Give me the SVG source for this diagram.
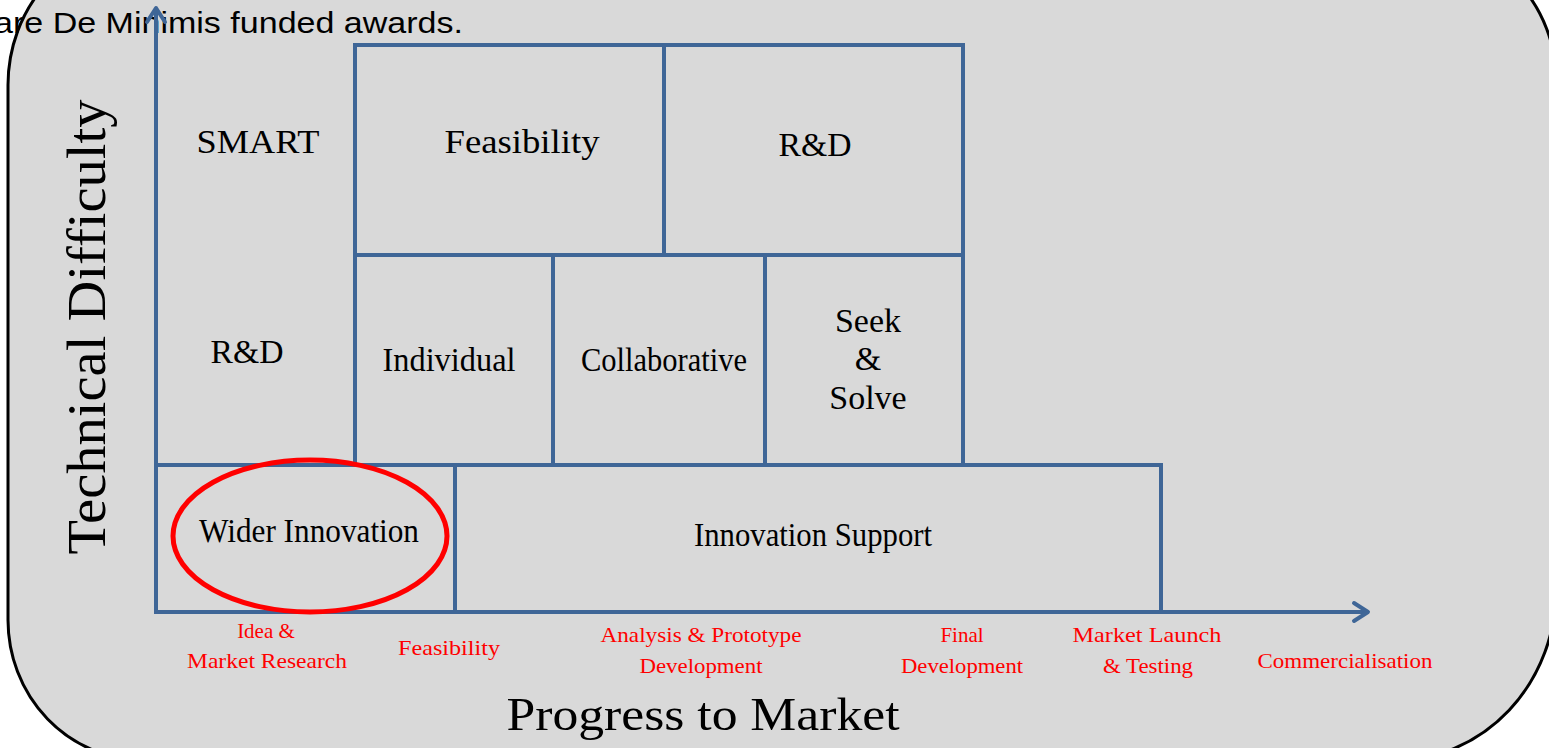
<svg xmlns="http://www.w3.org/2000/svg" width="1549" height="748" viewBox="0 0 1549 748">
<style>
.bg{fill:#d9d9d9;stroke:#000;stroke-width:3}
.box{fill:none;stroke:#3f6697;stroke-width:4}
.axis{fill:none;stroke:#3f6697;stroke-width:4}
.lbl{font-family:"Liberation Serif","DejaVu Serif",serif;font-size:34px;fill:#000;text-anchor:middle}
.red{font-family:"Liberation Serif","DejaVu Serif",serif;font-size:21px;fill:#ff0000;text-anchor:middle}
.title{font-family:"Liberation Serif","DejaVu Serif",serif;fill:#000;text-anchor:middle}
.top{font-family:"Liberation Sans","Open Sans",sans-serif;font-size:29px;fill:#000}
</style>
<defs>
<marker id="arr" markerUnits="userSpaceOnUse" markerWidth="24" markerHeight="24" refX="18" refY="12" orient="auto" viewBox="0 0 24 24">
<path d="M4,3 L18,12 L4,21" fill="none" stroke="#3f6697" stroke-width="4" stroke-linecap="round" stroke-linejoin="round"/>
</marker>
</defs>
<path class="bg" d="M8,85 A135,145 0 0 1 143,-60 L1421,-60 A135,140 0 0 1 1556,80 L1556,590 A160,170 0 0 1 1396,760 L143,760 A135,140 0 0 1 8,620 Z"/>
<text class="top" x="-6" y="33" textLength="469" lengthAdjust="spacingAndGlyphs">are De Minimis funded awards.</text>
<g id="connectors">
<line class="axis" x1="156" y1="612" x2="156" y2="8" marker-end="url(#arr)"/>
<line class="axis" x1="156" y1="612" x2="1368" y2="612" marker-end="url(#arr)"/>
</g>
<g id="smart"><text class="lbl" x="258" y="153" textLength="123" lengthAdjust="spacingAndGlyphs">SMART</text></g>
<g id="rd-left"><text class="lbl" x="247" y="363" textLength="73" lengthAdjust="spacingAndGlyphs">R&amp;D</text></g>
<g id="feasibility"><rect class="box" x="355" y="45" width="309" height="210"/><text class="lbl" x="522" y="153" textLength="155" lengthAdjust="spacingAndGlyphs">Feasibility</text></g>
<g id="rd-top"><rect class="box" x="664" y="45" width="299" height="210"/><text class="lbl" x="815" y="156" textLength="73" lengthAdjust="spacingAndGlyphs">R&amp;D</text></g>
<g id="individual"><rect class="box" x="355" y="255" width="198" height="210"/><text class="lbl" x="449" y="371" textLength="133" lengthAdjust="spacingAndGlyphs">Individual</text></g>
<g id="collaborative"><rect class="box" x="553" y="255" width="212" height="210"/><text class="lbl" x="664" y="371" textLength="166" lengthAdjust="spacingAndGlyphs">Collaborative</text></g>
<g id="seek-solve"><rect class="box" x="765" y="255" width="198" height="210"/><text class="lbl" x="868" y="332">Seek</text><text class="lbl" x="868" y="370">&amp;</text><text class="lbl" x="868" y="409">Solve</text></g>
<g id="wider-innovation"><rect class="box" x="156" y="465" width="299" height="147"/><text class="lbl" x="309" y="542" textLength="220" lengthAdjust="spacingAndGlyphs">Wider Innovation</text><ellipse cx="310" cy="536" rx="137" ry="76" fill="none" stroke="#ff0000" stroke-width="5"/></g>
<g id="innovation-support"><rect class="box" x="455" y="465" width="706" height="147"/><text class="lbl" x="813" y="546" textLength="238" lengthAdjust="spacingAndGlyphs">Innovation Support</text></g>
<g id="y-title"><text class="title" font-size="54" transform="translate(105 327) rotate(-90)" textLength="455" lengthAdjust="spacingAndGlyphs">Technical Difficulty</text></g>
<g id="x-title"><text class="title" font-size="46" x="703" y="730" textLength="393" lengthAdjust="spacingAndGlyphs">Progress to Market</text></g>
<g id="stage-idea"><text class="red" x="266" y="638">Idea &amp;</text><text class="red" x="267" y="668" textLength="160" lengthAdjust="spacingAndGlyphs">Market Research</text></g>
<g id="stage-feasibility"><text class="red" x="449" y="655" textLength="102" lengthAdjust="spacingAndGlyphs">Feasibility</text></g>
<g id="stage-analysis"><text class="red" x="701" y="642" textLength="201" lengthAdjust="spacingAndGlyphs">Analysis &amp; Prototype</text><text class="red" x="701" y="673" textLength="123" lengthAdjust="spacingAndGlyphs">Development</text></g>
<g id="stage-final"><text class="red" x="962" y="642">Final</text><text class="red" x="962" y="673" textLength="122" lengthAdjust="spacingAndGlyphs">Development</text></g>
<g id="stage-launch"><text class="red" x="1147" y="642" textLength="149" lengthAdjust="spacingAndGlyphs">Market Launch</text><text class="red" x="1148" y="673" textLength="90" lengthAdjust="spacingAndGlyphs">&amp; Testing</text></g>
<g id="stage-commercial"><text class="red" x="1345" y="668" textLength="175" lengthAdjust="spacingAndGlyphs">Commercialisation</text></g>
</svg>
